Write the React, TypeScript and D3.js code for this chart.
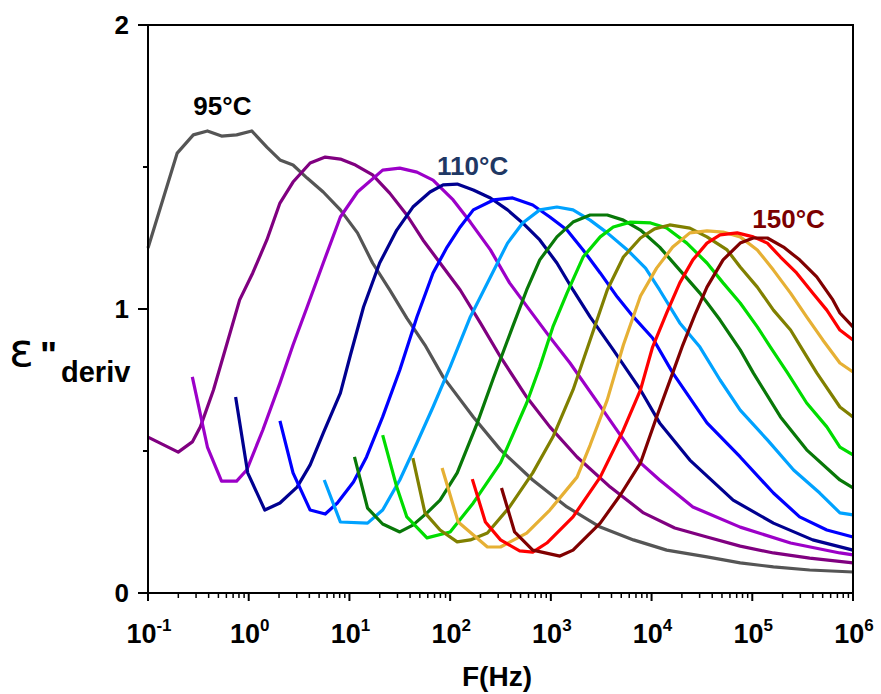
import React from "react";
import * as d3 from "d3";

// Each series: [log10(F / Hz), ε''deriv]
const s95: [number, number][] = [[-1.00,1.215],[-0.71,1.549],[-0.55,1.613],[-0.41,1.627],[-0.27,1.609],[-0.12,1.613],[0.03,1.627],[0.18,1.570],[0.31,1.525],[0.44,1.507],[0.58,1.461],[0.74,1.412],[0.91,1.349],[1.08,1.268],[1.23,1.162],[1.40,1.067],[1.57,0.968],[1.75,0.873],[1.93,0.761],[2.23,0.620],[2.50,0.504],[2.82,0.398],[3.16,0.303],[3.49,0.232],[3.82,0.187],[4.15,0.151],[4.55,0.127],[4.88,0.106],[5.21,0.092],[5.57,0.081],[6.00,0.074]];
const s100: [number, number][] = [[-1.00,0.549],[-0.70,0.496],[-0.56,0.532],[-0.48,0.585],[-0.35,0.715],[-0.22,0.873],[-0.09,1.032],[0.04,1.127],[0.18,1.243],[0.31,1.373],[0.44,1.447],[0.61,1.514],[0.76,1.535],[0.91,1.528],[1.06,1.507],[1.23,1.472],[1.40,1.408],[1.57,1.331],[1.73,1.243],[1.90,1.162],[2.10,1.067],[2.30,0.951],[2.50,0.831],[2.76,0.690],[2.99,0.585],[3.26,0.479],[3.59,0.373],[3.92,0.282],[4.23,0.229],[4.55,0.197],[4.88,0.165],[5.21,0.141],[5.57,0.123],[6.00,0.106]];
const s105: [number, number][] = [[-0.56,0.761],[-0.41,0.514],[-0.27,0.394],[-0.12,0.394],[-0.02,0.433],[0.14,0.574],[0.31,0.739],[0.44,0.873],[0.58,1.007],[0.74,1.162],[0.91,1.324],[1.08,1.412],[1.33,1.489],[1.50,1.496],[1.67,1.482],[1.83,1.454],[2.03,1.384],[2.20,1.306],[2.40,1.208],[2.59,1.092],[2.79,0.996],[2.99,0.901],[3.19,0.810],[3.49,0.658],[3.69,0.556],[3.89,0.458],[4.08,0.398],[4.41,0.303],[4.88,0.232],[5.38,0.176],[5.87,0.141],[6.00,0.134]];
const s110: [number, number][] = [[-0.13,0.690],[-0.01,0.423],[0.16,0.292],[0.31,0.317],[0.48,0.373],[0.61,0.451],[0.74,0.563],[0.91,0.704],[1.01,0.838],[1.14,1.007],[1.30,1.162],[1.47,1.278],[1.63,1.359],[1.80,1.412],[1.93,1.437],[2.07,1.440],[2.23,1.419],[2.40,1.391],[2.57,1.349],[2.72,1.303],[2.89,1.243],[3.06,1.162],[3.22,1.067],[3.39,0.972],[3.62,0.856],[3.89,0.715],[4.08,0.599],[4.38,0.468],[4.81,0.327],[5.21,0.246],[5.60,0.187],[6.00,0.151]];
const s115: [number, number][] = [[0.31,0.606],[0.44,0.423],[0.61,0.292],[0.76,0.278],[0.88,0.317],[1.04,0.391],[1.17,0.479],[1.33,0.620],[1.50,0.785],[1.67,0.972],[1.83,1.127],[1.97,1.218],[2.10,1.289],[2.23,1.349],[2.43,1.384],[2.62,1.391],[2.82,1.366],[2.99,1.324],[3.16,1.278],[3.32,1.208],[3.49,1.127],[3.66,1.042],[3.82,0.972],[4.01,0.898],[4.21,0.775],[4.55,0.599],[4.88,0.479],[5.21,0.352],[5.47,0.268],[5.74,0.222],[6.00,0.197]];
const s120: [number, number][] = [[0.75,0.398],[0.91,0.250],[1.18,0.246],[1.33,0.292],[1.50,0.398],[1.67,0.528],[1.83,0.655],[2.00,0.796],[2.20,0.972],[2.40,1.113],[2.57,1.232],[2.72,1.303],[2.89,1.349],[3.06,1.359],[3.22,1.349],[3.39,1.313],[3.56,1.268],[3.76,1.208],[3.94,1.144],[4.08,1.067],[4.28,0.951],[4.48,0.866],[4.68,0.750],[4.88,0.644],[5.15,0.539],[5.41,0.433],[5.67,0.352],[5.87,0.282],[6.00,0.275]];
const s125: [number, number][] = [[1.05,0.479],[1.18,0.299],[1.33,0.243],[1.50,0.215],[1.63,0.239],[1.77,0.282],[1.90,0.327],[2.07,0.423],[2.27,0.599],[2.43,0.757],[2.62,0.937],[2.76,1.067],[2.89,1.173],[3.06,1.254],[3.22,1.306],[3.39,1.331],[3.56,1.331],[3.72,1.313],[3.89,1.278],[4.08,1.218],[4.28,1.137],[4.48,1.056],[4.68,0.961],[4.88,0.856],[5.01,0.775],[5.28,0.620],[5.54,0.504],[5.87,0.398],[6.00,0.370]];
const s130: [number, number][] = [[1.33,0.556],[1.47,0.373],[1.57,0.268],[1.77,0.194],[2.00,0.215],[2.23,0.317],[2.50,0.458],[2.76,0.669],[2.89,0.796],[3.02,0.937],[3.16,1.056],[3.32,1.183],[3.49,1.254],[3.62,1.289],[3.79,1.306],[3.99,1.303],[4.15,1.285],[4.35,1.232],[4.55,1.162],[4.71,1.092],[4.88,1.021],[5.05,0.937],[5.18,0.866],[5.35,0.775],[5.54,0.669],[5.74,0.585],[5.87,0.514],[6.00,0.486]];
const s135: [number, number][] = [[1.63,0.475],[1.75,0.282],[1.90,0.222],[2.07,0.180],[2.20,0.187],[2.37,0.211],[2.59,0.303],[2.82,0.423],[3.02,0.549],[3.22,0.715],[3.39,0.891],[3.56,1.067],[3.72,1.183],[3.89,1.250],[4.03,1.282],[4.18,1.296],[4.38,1.285],[4.55,1.254],[4.75,1.208],[4.88,1.148],[5.05,1.077],[5.21,0.996],[5.38,0.926],[5.50,0.856],[5.64,0.775],[5.87,0.655],[6.00,0.620]];
const s140: [number, number][] = [[1.92,0.440],[2.08,0.250],[2.37,0.162],[2.50,0.162],[2.76,0.211],[2.99,0.292],[3.26,0.408],[3.39,0.521],[3.56,0.680],[3.72,0.873],[3.89,1.046],[4.05,1.144],[4.21,1.218],[4.38,1.268],[4.55,1.275],[4.71,1.271],[4.88,1.254],[5.05,1.208],[5.21,1.137],[5.38,1.056],[5.54,0.972],[5.70,0.891],[5.87,0.810],[6.00,0.778]];
const s145: [number, number][] = [[2.22,0.401],[2.35,0.250],[2.50,0.187],[2.69,0.148],[2.82,0.144],[2.96,0.176],[3.22,0.268],[3.49,0.408],[3.72,0.574],[3.89,0.715],[4.01,0.866],[4.15,0.986],[4.28,1.092],[4.41,1.173],[4.55,1.232],[4.68,1.261],[4.85,1.268],[5.01,1.254],[5.15,1.232],[5.28,1.183],[5.44,1.127],[5.60,1.056],[5.74,0.996],[5.87,0.926],[6.00,0.891]];
const s150: [number, number][] = [[2.51,0.370],[2.64,0.215],[2.82,0.151],[3.09,0.130],[3.22,0.151],[3.49,0.246],[3.69,0.345],[3.89,0.458],[4.05,0.620],[4.21,0.775],[4.31,0.873],[4.43,0.979],[4.55,1.077],[4.71,1.173],[4.88,1.232],[5.01,1.250],[5.15,1.250],[5.31,1.218],[5.47,1.173],[5.64,1.113],[5.80,1.032],[5.87,0.986],[6.00,0.937]];

const seriesData = [s95, s100, s105, s110, s115, s120, s125, s130, s135, s140, s145, s150];
const seriesColors = ["#555555", "#800080", "#9C00C8", "#000090", "#0000FF", "#00A2FF", "#087808", "#00DC00", "#808000", "#E6B034", "#FF0000", "#800000"];

const yTickLabels = ["0", "1", "2"];
const yTicks = [0, 0.5, 1, 1.5, 2];
const xDecades = [-1, 0, 1, 2, 3, 4, 5, 6];

// annotation anchors: [log10 F, ε''] of the text baseline start
const annotations = [
  { text: "95°C", x: -0.55, y: 1.683, color: "#000000" },
  { text: "110°C", x: 1.87, y: 1.472, color: "#1F3864" },
  { text: "150°C", x: 5.0, y: 1.285, color: "#7B0000" },
];

const FONT = "'Liberation Sans', Arial, Helvetica, sans-serif";

export default function App() {
  const xScale = d3.scaleLog().domain([0.1, 1e6]).range([148, 853]);
  const yScale = d3.scaleLinear().domain([0, 2]).range([593, 25]);
  const line = d3
    .line<[number, number]>()
    .x((d) => xScale(Math.pow(10, d[0])))
    .y((d) => yScale(d[1]));

  const minorTicks: number[] = [];
  for (let d = -1; d < 6; d++) {
    for (let k = 2; k <= 9; k++) minorTicks.push(k * Math.pow(10, d));
  }

  const x0 = xScale(0.1);
  const x1 = xScale(1e6);
  const y0 = yScale(0);
  const y1 = yScale(2);

  return (
    <svg
      width={881}
      height={694}
      style={{ position: "absolute", left: 0, top: 0, background: "#fff" }}
      fontFamily={FONT}
    >
      <rect x={0} y={0} width={881} height={694} fill="#fff" />
      <g>
        {seriesData.map((s, i) => (
          <path
            key={i}
            d={line(s) || ""}
            fill="none"
            stroke={seriesColors[i]}
            strokeWidth={3.2}
            strokeLinejoin="round"
            strokeLinecap="butt"
          />
        ))}
      </g>
      {/* frame */}
      <g stroke="#000" strokeWidth={2} fill="none">
        <line x1={x0} y1={y1 - 1} x2={x0} y2={y0 + 1} />
        <line x1={x0 - 1} y1={y0} x2={x1 + 1} y2={y0} />
        <line x1={x0} y1={y1} x2={x1 + 1} y2={y1} />
        <line x1={x1} y1={y1 - 1} x2={x1} y2={y0 + 1} />
      </g>
      {/* y ticks */}
      <g stroke="#000" strokeWidth={2}>
        {yTicks.map((t) => (
          <line
            key={t}
            x1={x0 - (Number.isInteger(t) ? 10 : 5)}
            x2={x0}
            y1={yScale(t)}
            y2={yScale(t)}
          />
        ))}
      </g>
      <g fontSize={26} fontWeight="bold" textAnchor="end" fill="#000">
        {yTickLabels.map((l) => (
          <text key={l} x={129} y={yScale(+l) + 9}>
            {l}
          </text>
        ))}
      </g>
      {/* x ticks */}
      <g stroke="#000" strokeWidth={2}>
        {xDecades.map((d) => (
          <line key={d} x1={xScale(Math.pow(10, d))} x2={xScale(Math.pow(10, d))} y1={y0} y2={y0 + 8} />
        ))}
        {minorTicks.map((v, i) => (
          <line key={i} x1={xScale(v)} x2={xScale(v)} y1={y0} y2={y0 + 5} strokeWidth={1.5} />
        ))}
      </g>
      <g fontWeight="bold" fill="#000" textAnchor="middle">
        {xDecades.map((d) => (
          <text key={d} x={xScale(Math.pow(10, d)) + 1} y={643} fontSize={27}>
            10
            <tspan fontSize={17} dy={-12}>
              {String(d)}
            </tspan>
          </text>
        ))}
      </g>
      {/* axis titles */}
      <text x={497} y={686} fontSize={28} fontWeight="bold" textAnchor="middle" fill="#000">
        F(Hz)
      </text>
      <g fill="#000">
        <text x={9} y={366} fontSize={46} fontFamily="'DejaVu Sans', sans-serif">
          ε
        </text>
        <text x={40} y={368} fontSize={36} fontWeight="bold">
          "
        </text>
        <text x={61} y={382} fontSize={29} fontWeight="bold">
          deriv
        </text>
      </g>
      {/* annotations */}
      <g fontSize={26} fontWeight="bold">
        {annotations.map((a) => (
          <text key={a.text} x={xScale(Math.pow(10, a.x))} y={yScale(a.y)} fill={a.color}>
            {a.text}
          </text>
        ))}
      </g>
    </svg>
  );
}
